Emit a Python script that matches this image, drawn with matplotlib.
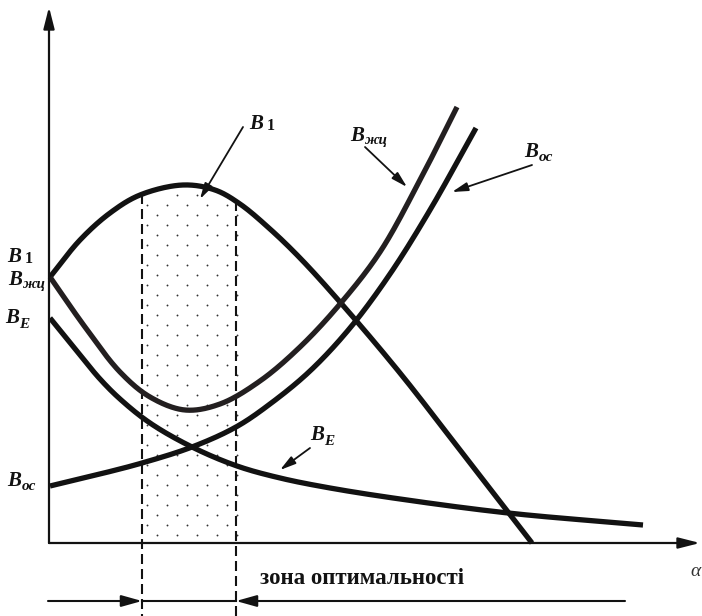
import numpy as np
import matplotlib
matplotlib.use("Agg")
import matplotlib.pyplot as plt

# Curve values: alpha (horizontal) and B (vertical), origin at the axes corner
b1_alpha = [1, 31, 61, 91, 134, 166, 191, 221, 251, 291, 351, 411, 483]
b1_val = [266, 303, 330, 348, 358, 353, 339, 314, 285, 241, 170, 93, 0]

bzhc_alpha = [1, 36, 71, 101, 136, 171, 211, 251, 291, 331, 371, 408]
bzhc_val = [266, 216, 171, 146, 133, 139, 162, 196, 239, 291, 363, 436]

bos_alpha = [1, 51, 93, 143, 187, 221, 261, 301, 341, 381, 427]
bos_val = [57, 69, 80, 96, 116, 139, 172, 215, 269, 333, 415]

be_alpha = [1, 31, 51, 71, 101, 143, 188, 231, 281, 351, 459, 594]
be_val = [225, 188, 164, 144, 120, 96, 77, 65, 55, 44, 30, 18]

# optimal zone boundaries on the alpha axis
zone = [93, 187]
zone_text = "зона оптимальності"

SERIF = ["Liberation Serif", "DejaVu Serif"]
INK = "#121212"


def smooth(xs, ys, n=30):
    """Centripetal Catmull-Rom curve through the given points (drawing only)."""
    P = np.column_stack([xs, ys]).astype(float)
    P = np.vstack([2 * P[0] - P[1], P, 2 * P[-1] - P[-2]])
    out = []
    for i in range(1, len(P) - 2):
        p0, p1, p2, p3 = P[i - 1], P[i], P[i + 1], P[i + 2]
        t0 = 0.0
        t1 = t0 + np.linalg.norm(p1 - p0) ** 0.5
        t2 = t1 + np.linalg.norm(p2 - p1) ** 0.5
        t3 = t2 + np.linalg.norm(p3 - p2) ** 0.5
        t = np.linspace(t1, t2, n, endpoint=False)[:, None]
        a1 = (t1 - t) / (t1 - t0) * p0 + (t - t0) / (t1 - t0) * p1
        a2 = (t2 - t) / (t2 - t1) * p1 + (t - t1) / (t2 - t1) * p2
        a3 = (t3 - t) / (t3 - t2) * p2 + (t - t2) / (t3 - t2) * p3
        b1 = (t2 - t) / (t2 - t0) * a1 + (t - t0) / (t2 - t0) * a2
        b2 = (t3 - t) / (t3 - t1) * a2 + (t - t1) / (t3 - t1) * a3
        out.append((t2 - t) / (t2 - t1) * b1 + (t - t1) / (t2 - t1) * b2)
    out.append(P[-2][None, :])
    return np.vstack(out)


fig = plt.figure(figsize=(7.02, 6.16), dpi=100)
ax = fig.add_axes([0, 0, 1, 1])
ax.set_xlim(-49, 653)
ax.set_ylim(-73, 543)
ax.axis("off")

# dotted fill of the optimal zone under the B1 curve
b1_curve = smooth(b1_alpha, b1_val)
xs = np.arange(zone[0] + 5, zone[1] + 3, 10)
ys = np.arange(348, 4, -10)
gx, gy = np.meshgrid(xs, ys)
row = np.round((348 - gy) / 10).astype(int)
col = np.round((gx - zone[0] - 5) / 10).astype(int)
keep = ((row + col) % 2 == 1) & (gy < np.interp(gx, b1_curve[:, 0], b1_curve[:, 1]) - 6)
ax.scatter(gx[keep], gy[keep], s=1.8, color="#333333", linewidths=0, zorder=1)

# zone boundaries
for z in zone:
    top = np.interp(z, b1_curve[:, 0], b1_curve[:, 1])
    ax.plot([z, z], [top, -73], color=INK, lw=1.5, ls=(0, (4.8, 2.4)), zorder=2)

# curves
for a, v, c in [(b1_alpha, b1_val, INK), (bzhc_alpha, bzhc_val, "#231f20"),
                (bos_alpha, bos_val, INK), (be_alpha, be_val, INK)]:
    pts = smooth(a, v)
    ax.plot(pts[:, 0], pts[:, 1], color=c, lw=3.8, solid_capstyle="butt", zorder=3)

# axes with arrows
axis_arrow = dict(arrowstyle="-|>,head_length=1.3,head_width=0.33", lw=1.6,
                  color=INK, mutation_scale=10, shrinkA=0, shrinkB=0)
ax.annotate("", xy=(0, 536), xytext=(0, 0), arrowprops=axis_arrow, zorder=4)
ax.annotate("", xy=(651, 0), xytext=(0, 0), arrowprops=axis_arrow, zorder=4)
ax.text(647, -29, "α", fontsize=14, family=SERIF, style="italic",
        color="#333333", ha="center", va="center")

# zone span arrows
span_arrow = dict(arrowstyle="-|>,head_length=1.25,head_width=0.35", lw=1.5,
                  color=INK, mutation_scale=10, shrinkA=0, shrinkB=0)
ax.annotate("", xy=(zone[0], -58), xytext=(-1, -58), arrowprops=span_arrow)
ax.annotate("", xy=(zone[1], -58), xytext=(576, -58), arrowprops=span_arrow)
ax.plot(zone, [-58, -58], color=INK, lw=1.5)
ax.text(313, -35, zone_text, fontsize=16.5, family=SERIF, weight="bold",
        ha="center", va="center", color=INK)


def blabel(x, y, sub, upright_sub=False, drop=2.0):
    """Bold italic B at baseline (x, y) with a subscript."""
    t = ax.text(x, y, "B", fontsize=15, family=SERIF, weight="bold",
                style="italic", ha="center", va="baseline", color=INK)
    # bbox bottom sits one descent below the baseline of B
    ax.annotate(sub, xy=(1, 0), xycoords=t,
                xytext=(2.5 if upright_sub else 0.3, 3.2 - drop),
                textcoords="offset points",
                fontsize=11.5 if upright_sub else 11,
                family=SERIF, weight="bold",
                style="normal" if upright_sub else "italic",
                ha="left", va="baseline", color=INK)


# labels at the vertical axis
blabel(-35, 281, "1", drop=0.5, upright_sub=True)
blabel(-34, 258, "жц", drop=1.5)
blabel(-37, 220, "E", drop=3.0)
blabel(-35, 57, "ос", drop=2.5)

# curve callouts
pointer = dict(arrowstyle="-|>,head_length=0.95,head_width=0.26", lw=1.3,
               color=INK, mutation_scale=10, shrinkA=0, shrinkB=0)
ax.annotate("", xy=(151, 344), xytext=(194, 416), arrowprops=pointer)
blabel(207, 414, "1", drop=0.5, upright_sub=True)
ax.annotate("", xy=(358, 356), xytext=(316, 396), arrowprops=pointer)
blabel(308, 402, "жц", drop=1.5)
ax.annotate("", xy=(403, 351), xytext=(483, 378), arrowprops=pointer)
blabel(482, 386, "ос", drop=2.5)
ax.annotate("", xy=(231, 73), xytext=(261, 95), arrowprops=pointer)
blabel(268, 103, "E", drop=3.0)

fig.savefig("out.png", dpi=100)
